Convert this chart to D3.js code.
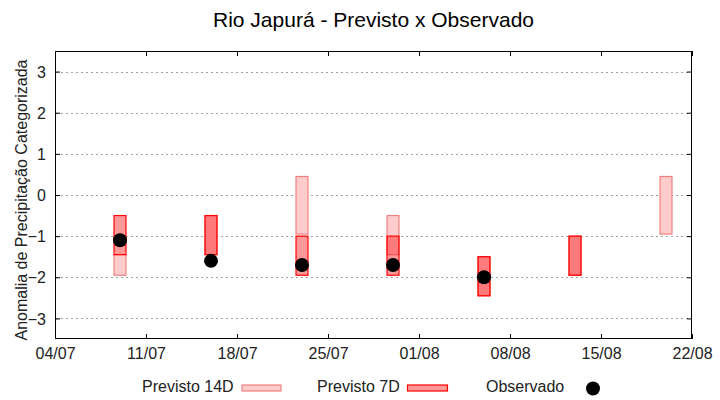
<!DOCTYPE html>
<html>
<head>
<meta charset="utf-8">
<script src="https://cdn.jsdelivr.net/npm/d3@7"></script>
<style>
  html, body { margin: 0; padding: 0; background: #fff; }
  svg { display: block; font-family: "Liberation Sans", Arial, sans-serif; }
</style>
</head>
<body>
<svg id="chart" width="720" height="400"></svg>
<script>
// ---- data ----
const title = "Rio Japurá - Previsto x Observado";
const yLabel = "Anomalia de Precipitação Categorizada";
const xTickLabels = ["04/07", "11/07", "18/07", "25/07", "01/08", "08/08", "15/08", "22/08"];
const yTicks = [-3, -2, -1, 0, 1, 2, 3];

const dates14 = ["09/07", "16/07", "23/07", "30/07", "06/08", "13/08", "20/08"];
const low14  = [-1.95, -1.45, -0.95, -1.45, -2.45, -1.95, -0.95];
const high14 = [-1.45, -0.50,  0.45, -0.50, -1.50, -1.00,  0.45];

const dates7 = ["09/07", "16/07", "23/07", "30/07", "06/08", "13/08"];
const low7  = [-1.45, -1.45, -1.95, -1.95, -2.45, -1.95];
const high7 = [-0.50, -0.50, -1.00, -1.00, -1.50, -1.00];

const datesObs = ["09/07", "16/07", "23/07", "30/07", "06/08"];
const valuesObs = [-1.1, -1.6, -1.7, -1.7, -2.0];

const legendLabels = ["Previsto 14D", "Previsto 7D", "Observado"];

// ---- setup ----
const parse = s => d3.timeParse("%d/%m/%Y")(s + "/2024");
const svg = d3.select("#chart");
const m = { left: 55, right: 692, top: 51, bottom: 339 };

const x = d3.scaleTime()
  .domain([parse(xTickLabels[0]), parse(xTickLabels[xTickLabels.length - 1])])
  .range([m.left, m.right]);
const y = d3.scaleLinear().domain([-3.5, 3.5]).range([m.bottom, m.top]);

const DAY = 864e5;
const halfW = 0.46 * DAY;

// grid
svg.append("g").selectAll("line").data(yTicks).join("line")
  .attr("x1", m.left + 1).attr("x2", m.right - 1)
  .attr("y1", d => Math.round(y(d)) + 0.5).attr("y2", d => Math.round(y(d)) + 0.5)
  .attr("stroke", "#a0a0a0").attr("stroke-width", 1).attr("stroke-dasharray", "2,3");

// axes (ticks inward, mirrored)
const xTickVals = xTickLabels.map(parse);
const fmt = d3.timeFormat("%d/%m");
const axB = svg.append("g").attr("transform", `translate(0,${m.bottom})`)
  .call(d3.axisBottom(x).tickValues(xTickVals).tickFormat(fmt).tickSizeInner(-5).tickSizeOuter(0).tickPadding(9));
const axT = svg.append("g").attr("transform", `translate(0,${m.top})`)
  .call(d3.axisTop(x).tickValues(xTickVals).tickFormat("").tickSizeInner(-5).tickSizeOuter(0));
const axL = svg.append("g").attr("transform", `translate(${m.left},0)`)
  .call(d3.axisLeft(y).tickValues(yTicks).tickFormat(d3.format("d")).tickSizeInner(-5).tickSizeOuter(0).tickPadding(9));
const axR = svg.append("g").attr("transform", `translate(${m.right},0)`)
  .call(d3.axisRight(y).tickValues(yTicks).tickFormat("").tickSizeInner(-5).tickSizeOuter(0));
[axB, axT, axL, axR].forEach(g => {
  g.select(".domain").remove();
  g.selectAll("line").attr("stroke", "#000");
  g.selectAll("text").attr("fill", "#222").style("font-size", "16px").style("font-family", "Liberation Sans, Arial, sans-serif");
});
axL.selectAll("text").attr("dy", "0.35em");
axB.selectAll("text").attr("dy", "0.71em");

// frame
svg.append("rect").attr("x", m.left + 0.5).attr("y", m.top + 0.5)
  .attr("width", m.right - m.left - 1).attr("height", m.bottom - m.top - 1)
  .attr("fill", "none").attr("stroke", "#000");

// 14D bars
const c14fill = "#ffcccc", c14stroke = "#f08080";
const c7fill = "rgba(255,0,0,0.4)", c7stroke = "#ff0000";
svg.append("g").selectAll("rect").data(dates14.map((d, i) => ({ d: parse(d), lo: low14[i], hi: high14[i] })))
  .join("rect")
  .attr("x", d => x(+d.d - halfW)).attr("width", d => x(+d.d + halfW) - x(+d.d - halfW))
  .attr("y", d => y(d.hi)).attr("height", d => y(d.lo) - y(d.hi))
  .attr("fill", c14fill).attr("stroke", c14stroke).attr("stroke-width", 1.2);

// 7D bars
svg.append("g").selectAll("rect").data(dates7.map((d, i) => ({ d: parse(d), lo: low7[i], hi: high7[i] })))
  .join("rect")
  .attr("x", d => x(+d.d - halfW)).attr("width", d => x(+d.d + halfW) - x(+d.d - halfW))
  .attr("y", d => y(d.hi)).attr("height", d => y(d.lo) - y(d.hi))
  .attr("fill", c7fill).attr("stroke", c7stroke).attr("stroke-width", 1.2);

// observed
svg.append("g").selectAll("circle").data(datesObs.map((d, i) => ({ d: parse(d), v: valuesObs[i] })))
  .join("circle")
  .attr("cx", d => x(d.d)).attr("cy", d => y(d.v)).attr("r", 7).attr("fill", "#000");

// title
svg.append("text").attr("x", (m.left + m.right) / 2).attr("y", 27)
  .attr("text-anchor", "middle").style("font-size", "21px").attr("fill", "#000").text(title);

// y label
svg.append("text").attr("transform", `translate(27,200) rotate(-90)`)
  .attr("text-anchor", "middle").style("font-size", "16px").attr("fill", "#222").text(yLabel);

// legend
const lg = svg.append("g");
const legY = 392;
lg.append("text").attr("x", 142).attr("y", legY).style("font-size", "16px").attr("fill", "#222").text(legendLabels[0]);
lg.append("rect").attr("x", 242).attr("y", 385).attr("width", 39).attr("height", 6)
  .attr("fill", c14fill).attr("stroke", c14stroke).attr("stroke-width", 1.2);
lg.append("text").attr("x", 317).attr("y", legY).style("font-size", "16px").attr("fill", "#222").text(legendLabels[1]);
lg.append("rect").attr("x", 407.5).attr("y", 385).attr("width", 40).attr("height", 6)
  .attr("fill", c7fill).attr("stroke", c7stroke).attr("stroke-width", 1.2);
lg.append("text").attr("x", 486).attr("y", legY).style("font-size", "16px").attr("fill", "#222").text(legendLabels[2]);
lg.append("circle").attr("cx", 593).attr("cy", 388.5).attr("r", 7).attr("fill", "#000");
</script>
</body>
</html>
